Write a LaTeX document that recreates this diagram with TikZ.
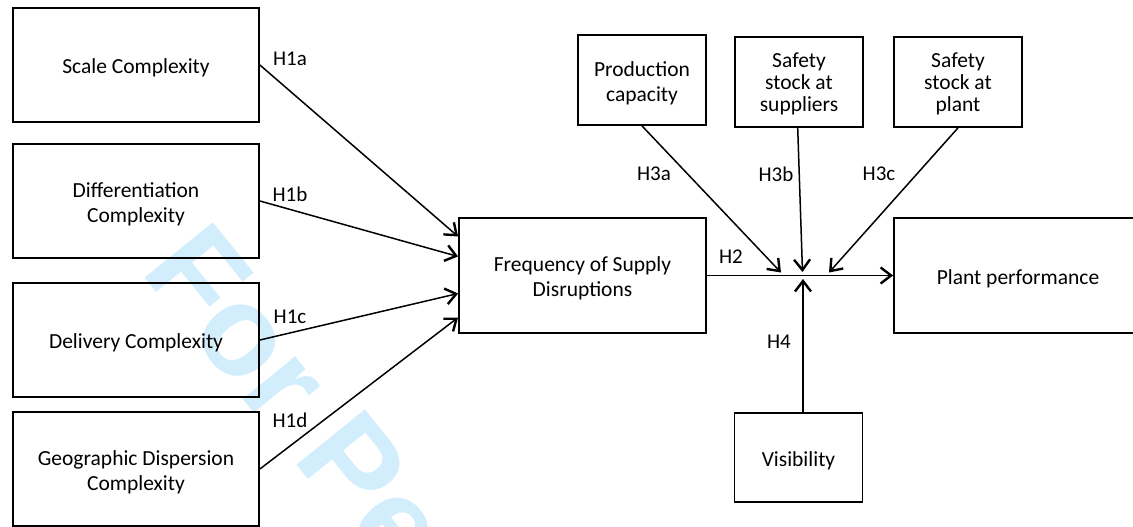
\documentclass[tikz,border=0pt]{standalone}
\usepackage{fontspec}
\setmainfont{Carlito}
\newfontfamily\wmfont{Liberation Sans}
\usetikzlibrary{arrows.meta}
\definecolor{wmblue}{RGB}{210,238,252}
\tikzset{
  box/.style={draw=black, line width=1.8pt, inner sep=0pt},
  bigbox/.style={box, minimum width=246pt, minimum height=114pt},
  smallbox/.style={box, minimum width=128pt, minimum height=90pt},
  txt/.style={align=center, inner sep=0pt, font=\fontsize{21.5}{25}\selectfont},
  three/.style={font=\fontsize{21.5}{22}\selectfont},
  hlab/.style={inner sep=0pt, font=\fontsize{21}{25}\selectfont},
  arr/.style={line width=1.5pt, -{Straight Barb[length=10.5pt,width=16pt,line width=2.4pt]}},
}
\begin{document}
\begin{tikzpicture}[x=1pt,y=-1pt]
\useasboundingbox (0,0) rectangle (1133,527);
\begin{scope}
\clip (0,0) rectangle (1133,527);
% watermark
\node[anchor=base west, inner sep=0pt, rotate=-51, text=wmblue,
  font=\wmfont\bfseries\fontsize{128}{130}\selectfont] (wm) at (139,271) {For Pe};
% boxes
\node[bigbox] (scale) at (136,65) {};
\node[bigbox] (diff) at (136,201) {};
\node[bigbox] (deliv) at (136,340) {};
\node[bigbox] (geo) at (136,469) {};
\node[bigbox, minimum width=247pt, minimum height=115pt] (freq) at (582.5,275.5) {};
\node[smallbox] (prod) at (642,80) {};
\node[smallbox] (sss) at (799,82) {};
\node[smallbox] (ssp) at (958,82) {};
\node[bigbox, minimum width=248pt, minimum height=115pt] (plant) at (1018,275.5) {};
\node[smallbox, minimum height=89pt] (vis) at (798.5,457.5) {};
% box texts
\node[txt] (scale-t) at ([yshift=-3pt]scale.center) {Scale Complexity};
\node[txt] (diff-t) at ([yshift=-3pt]diff.center) {Differentiation\\Complexity};
\node[txt] (deliv-t) at ([yshift=-3pt]deliv.center) {Delivery Complexity};
\node[txt] (geo-t) at ([yshift=-3pt]geo.center) {Geographic Dispersion\\Complexity};
\node[txt] (freq-t) at ([yshift=-3pt]freq.center) {Frequency of Supply\\Disruptions};
\node[txt] (prod-t) at ([yshift=-3pt]prod.center) {Production\\capacity};
\node[txt, three] (sss-t) at ([yshift=-2pt]sss.center) {Safety\\stock at\\suppliers};
\node[txt, three] (ssp-t) at ([yshift=-2pt]ssp.center) {Safety\\stock at\\plant};
\node[txt] (plant-t) at ([yshift=-3pt]plant.center) {Plant performance};
\node[txt] (vis-t) at ([yshift=-3pt]vis.center) {Visibility};
\end{scope}
% junction tips
\coordinate (ta) at (781,272.5);
\coordinate (tb) at (802.5,272);
\coordinate (tc) at (829,272.5);
\coordinate (td) at (803,279);
% connectors
\draw[arr] (scale.east) -- ([yshift=39pt]freq.west);
\draw[arr] (diff.east) -- ([yshift=19pt]freq.west);
\draw[arr] (deliv.east) -- ([yshift=-18pt]freq.west);
\draw[arr] (geo.east) -- ([yshift=-42pt]freq.west);
\draw[arr] (freq.east) -- (plant.west);
\draw[arr] (prod.south) -- (ta);
\draw[arr] ([xshift=-1.3pt]sss.south) -- (tb);
\draw[arr] (ssp.south) -- (tc);
\draw[arr] (td |- vis.north) -- (td);
% labels
\node[hlab] (l1a) at (290,59) {H1a};
\node[hlab] (l1b) at (290,194) {H1b};
\node[hlab] (l1c) at (290,317) {H1c};
\node[hlab] (l1d) at (290,420) {H1d};
\node[hlab] (l2) at (731,257) {H2};
\node[hlab] (l3a) at (654,174) {H3a};
\node[hlab] (l3b) at (776,174) {H3b};
\node[hlab] (l3c) at (879,174) {H3c};
\node[hlab] (l4) at (779,342) {H4};
\end{tikzpicture}
\end{document}
